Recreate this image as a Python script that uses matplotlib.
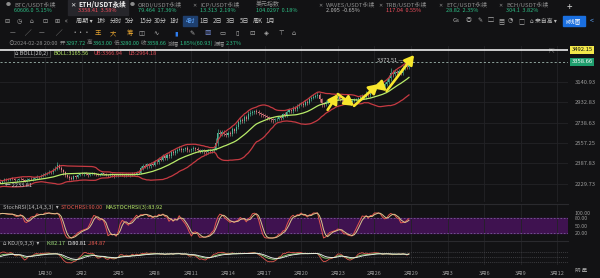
import numpy as np
import pandas as pd
import matplotlib
matplotlib.use("Agg")
import matplotlib.pyplot as plt
import matplotlib.dates as mdates
import matplotlib.transforms as mtransforms
from matplotlib.ticker import NullLocator, FixedLocator

plt.rcParams['font.family'] = ['Noto Sans CJK SC', 'DejaVu Sans']

# ---------------- data ----------------
start_time = '2024-01-20 16:00'
pre_closes = [2468, 2472,
              2466, 2460, 2470, 2464, 2458, 2452,
              2440, 2420, 2398, 2370, 2350, 2326,
              2312, 2268, 2210, 2238, 2228, 2240,
              2232, 2244, 2236, 2228, 2240, 2234,
              2226, 2218, 2230, 2222, 2214, 2226,
              2238, 2244]
closes = [2240, 2252, 2266, 2258,
          2262, 2271, 2265, 2256, 2263, 2270,
          2266, 2258, 2251, 2262, 2270, 2264,
          2268, 2276, 2284, 2279, 2292, 2300,
          2306, 2314, 2322, 2318, 2335, 2348,
          2372, 2356, 2340, 2318, 2300, 2286,
          2276, 2268, 2290, 2282, 2298, 2306,
          2302, 2310, 2306, 2298, 2304, 2312,
          2308, 2302, 2300, 2306, 2310, 2304,
          2298, 2296, 2302, 2294, 2288, 2292,
          2298, 2306, 2300, 2294, 2302, 2296,
          2300, 2312, 2306, 2322, 2316, 2352,
          2368, 2360, 2380, 2366, 2384, 2378,
          2402, 2396, 2424, 2418, 2446, 2432,
          2456, 2448, 2484, 2470, 2492, 2500,
          2508, 2498, 2504, 2512, 2500, 2496,
          2506, 2514, 2508, 2500, 2492, 2498,
          2486, 2478, 2494, 2488, 2500, 2508,
          2560, 2648, 2636, 2652, 2640, 2626,
          2648, 2636, 2676, 2664, 2702, 2740,
          2764, 2752, 2790, 2776, 2822, 2830,
          2836, 2844, 2838, 2826, 2814, 2806,
          2798, 2786, 2780, 2772, 2762, 2770,
          2776, 2790, 2782, 2818, 2806, 2842,
          2856, 2844, 2876, 2866, 2896, 2910,
          2918, 2906, 2936, 2928, 2962, 2976,
          2988, 2998, 3008, 2966, 2920, 2910,
          2930, 2946, 2958, 2950, 2964, 2972,
          2980, 2966, 2958, 2948, 2956, 2944,
          2936, 2948, 2956, 2962, 2974, 2986,
          2994, 2982, 3018, 3004, 3052, 3068,
          3080, 3096, 3110, 3102, 3090, 3118,
          3140, 3176, 3236, 3224, 3246, 3238,
          3252, 3236, 3290, 3306, 3297.72, 3358.66]
up_wick = [8, 6, 10, 7, 9, 12, 8, 10, 6, 9, 14, 12, 18, 16, 20, 14, 10,
           24, 30, 18, 12, 10, 14, 9, 11, 8, 12, 10, 9, 7, 11, 8, 10, 9,
           9, 7, 12, 8, 10, 6, 9, 11, 7, 8, 10, 6,
           8, 10, 7, 9, 12, 8, 11, 9, 10, 14, 12, 10,
           12, 9, 14, 18, 26, 12, 10, 8, 9, 7, 10, 12,
           8, 10, 7, 9, 11, 8, 10, 6, 9, 12, 8, 7,
           9, 10, 8, 6, 7, 9, 11, 8, 7, 10, 9, 8,
           10, 7, 9, 8, 11, 9, 12, 10, 14, 18, 16, 12,
           10, 14, 12, 9, 16, 12, 18, 14, 20, 12, 16, 14,
           18, 12, 14, 16, 20, 14, 10, 12, 16, 9, 12, 14,
           10, 12, 9, 8, 11, 10, 9, 12, 10, 14, 40, 30,
           26, 20, 18, 14, 16, 12, 18, 14, 20, 24, 22, 18,
           20, 16, 24, 22, 18, 14, 20, 16, 12, 10, 14, 12,
           10, 12, 9, 14, 16, 12, 18, 14, 20, 16, 18, 12,
           16, 14, 18, 12, 20, 16, 14, 18, 22, 20, 24, 18,
           30, 14, 12, 16, 20, 14, 18, 12, 16, 20, 22, 18,
           14, 12, 16, 10, 14, 12, 18, 16, 14, 20, 18, 16,
           22, 18, 20, 24, 18, 22, 26, 20, 16, 24, 30, 38,
           54, 28, 32, 24, 30, 26, 32, 66.51, 28, 4.34]
dn_wick = [7, 9, 6, 10, 8, 7, 11, 9, 8, 12, 10, 14, 16, 20, 18, 22, 15,
           12, 26, 34, 20, 16, 12, 10, 14, 9, 11, 12, 8, 10, 9, 13, 18, 11,
           6.19, 5, 10, 7, 9, 11, 8, 6, 10, 9, 7, 12,
           9, 8, 11, 7, 10, 9, 8, 12, 7, 10, 9, 11,
           10, 12, 9, 8, 11, 14, 18, 22, 16, 14, 20, 12,
           10, 14, 9, 11, 8, 10, 7, 12, 9, 8, 10, 11,
           8, 10, 12, 9, 11, 14, 10, 12, 16, 9, 8, 11,
           9, 12, 10, 8, 11, 9, 7, 10, 9, 12, 14, 10,
           12, 16, 10, 14, 11, 13, 16, 12, 14, 18, 12, 15,
           14, 16, 12, 18, 14, 20, 16, 12, 18, 14, 16, 12,
           14, 18, 16, 20, 18, 22, 16, 14, 12, 18, 10, 24,
           22, 18, 26, 20, 16, 18, 14, 20, 16, 18, 14, 20,
           18, 22, 16, 20, 24, 18, 22, 20, 24, 18, 16, 22,
           20, 26, 24, 18, 16, 14, 18, 12, 16, 14, 18, 16,
           14, 18, 16, 20, 14, 18, 16, 22, 18, 20, 16, 18,
           20, 30, 34, 24, 18, 16, 20, 18, 14, 16, 18, 20,
           22, 18, 16, 20, 24, 18, 14, 16, 18, 14, 20, 16,
           18, 22, 16, 20, 18, 24, 22, 26, 24, 20, 18, 22,
           26, 30, 22, 28, 24, 20, 26, 22, 18, 17.72]

price_ticks = [3140.93, 2932.83, 2738.63, 2557.25, 2387.83, 2229.73]
hline_price = 3492.15
last_price = 3358.66
date_ticks = ['2024-01-30', '2024-02-02', '2024-02-05', '2024-02-08', '2024-02-11',
              '2024-02-14', '2024-02-17', '2024-02-20', '2024-02-23', '2024-02-26',
              '2024-02-29', '2024-03-03', '2024-03-06', '2024-03-09', '2024-03-12']
date_labels = ['1月30', '2月2', '2月5', '2月8', '2月11', '2月14', '2月17', '2月20',
               '2月23', '2月26', '2月29', '3月3', '3月6', '3月9', '3月12']
arrow_times = ['2024-02-22 04:00', '2024-02-23 00:00', '2024-02-24 08:00',
               '2024-02-26 08:00', '2024-02-27 00:00', '2024-02-29 06:00']
arrow_prices = [2857, 3013, 2896, 3116, 3044, 3434]
stoch_levels = [100, 80, 50, 20]

# ---------------- derived ----------------
c_all = pd.Series(pre_closes + closes, dtype=float)
n_pre = len(pre_closes)
times = pd.date_range(start_time, periods=len(c_all), freq='4h')
o_all = c_all.shift(1).fillna(c_all.iloc[0])
h_all = np.maximum(o_all, c_all) + np.array(up_wick)
l_all = np.minimum(o_all, c_all) - np.array(dn_wick)

mb = c_all.rolling(20).mean()
sd = c_all.rolling(20).std(ddof=0)
ub = mb + 2 * sd
lb = mb - 2 * sd

delta = c_all.diff()
gain = delta.clip(lower=0).ewm(alpha=1 / 14, adjust=False).mean()
loss = (-delta.clip(upper=0)).ewm(alpha=1 / 14, adjust=False).mean()
rsi = 100 - 100 / (1 + gain / loss)
rmin = rsi.rolling(14).min()
rmax = rsi.rolling(14).max()
st = (rsi - rmin) / (rmax - rmin) * 100
stk = st.rolling(3).mean()
std_ = stk.rolling(3).mean()

llv = pd.Series(l_all).rolling(9, min_periods=1).min()
hhv = pd.Series(h_all).rolling(9, min_periods=1).max()
rsv = (c_all - llv) / (hhv - llv) * 100
kk = rsv.ewm(alpha=1 / 3, adjust=False).mean()
dd = kk.ewm(alpha=1 / 3, adjust=False).mean()
jj = 3 * kk - 2 * dd

vis = slice(n_pre, None)
x = mdates.date2num(times)
xv = x[vis]
ov, cv, hv, lv = o_all.values[vis], c_all.values[vis], h_all.values[vis], l_all.values[vis]

# ---------------- figure ----------------
W, H = 600, 278
BG = '#121214'
GRID = '#232327'
GRAY = '#8c8c8c'
GREEN = '#2ebd85'
RED = '#f0505e'
fig = plt.figure(figsize=(W / 100, H / 100), dpi=100, facecolor=BG)


def ax_px(l, t, r, b):
    a = fig.add_axes([l / W, 1 - b / H, (r - l) / W, (b - t) / H])
    a.set_facecolor(BG)
    for s in a.spines.values():
        s.set_visible(False)
    return a


def T(px, py, s, size=4.4, color=GRAY, **kw):
    fig.text(px / W, 1 - py / H, s, fontsize=size, color=color, va='center', **kw)


feb29 = mdates.date2num(pd.Timestamp('2024-02-29'))
ppd = 12.2
xlim = (feb29 - 411 / ppd, feb29 + (568 - 411) / ppd)
tick_x = mdates.date2num(pd.to_datetime(date_ticks))

# ---- header rows ----
fig.add_artist(plt.Rectangle((68 / W, 1 - 15 / H), 60 / W, 15 / H, transform=fig.transFigure,
                             color='#26262b', zorder=0))
tabs = [(6, 'BTC/USDT永续', '60606.0  5.15%', GREEN, '●'),
        (70, 'ETH/USDT永续', '3358.41  3.58%', RED, '✕'),
        (130, 'ORDI/USDT永续', '79.464  17.36%', GREEN, '●'),
        (192, 'ICP/USDT永续', '13.313  2.19%', GREEN, '✕'),
        (248, '美元指数', '104.0297  0.18%', GREEN, ''),
        (318, 'WAVES/USDT永续', '2.095  -0.65%', '#bdbdbd', '✕'),
        (378, 'TRB/USDT永续', '117.04  0.55%', RED, '✕'),
        (438, 'ETC/USDT永续', '28.82  2.35%', GREEN, '✕'),
        (498, 'BCH/USDT永续', '304.1  3.82%', GREEN, '✕')]
for px, name, val, col, ic in tabs:
    active = name.startswith('ETH')
    if ic:
        T(px, 5, ic, size=3.6 if not active else 4.6, color='#e8e8e8' if active else GRAY)
    T(px + 8, 4.5, name, size=4.3 if not active else 4.8,
      color='#f2f2f2' if active else GRAY, weight='bold' if active else 'normal')
    T(px + 8, 11, val, size=4.0, color=col)
T(567, 7, '+', size=7, color='#cfcfcf')

# row 2
for px, s in [(4, '⊟'), (17, '◷'), (30, '⌂'), (42, '⊡'), (54, '⊞'), (65, '«')]:
    T(px, 21, s, size=4.4, color='#a8a8a8')
T(76, 21, '周期 ▾', size=4.4, color='#c8c8c8')
tfs = [(97, '1秒'), (110, '分时'), (125, '5分'), (139, '15分'), (154, '30分'), (170, '1时'),
       (186, '4时'), (200, '1日'), (213, '2日'), (226, '3日'), (240, '5日'), (253, '周K'), (266, '1月')]
for px, s in tfs:
    if s == '4时':
        fig.add_artist(plt.Rectangle(((px - 3) / W, 1 - 25.5 / H), 14 / W, 9 / H,
                                     transform=fig.transFigure, color='#1e3f6e', zorder=0))
        T(px, 21, s, size=4.4, color='#5ea8ff')
    else:
        T(px, 21, s, size=4.4, color='#c8c8c8')
for px, s in [(453, 'Gs'), (466, '◎'), (477, '✎'), (488, '▢'), (498, '▤'), (508, '◔'),
              (518, '□')]:
    T(px, 21, s, size=4.3, color='#a8a8a8')
T(530, 21, '⌂ 来自高 ▾', size=4.2, color='#bdbdbd')
fig.add_artist(plt.Rectangle((563 / W, 1 - 25.5 / H), 22 / W, 9 / H,
                             transform=fig.transFigure, color='#1a6fe0', zorder=0))
T(565, 21, 'K线图', size=4.2, color='white')
T(590, 21, '<', size=5, color='#5ea8ff')

# row 3 tools
for px, s, col in [(10, '—', '#b0b0b0'), (25, '╱', '#b0b0b0'), (39, '—', '#b0b0b0'),
                   (56, '╱', '#b0b0b0'), (71, '···', '#b0b0b0'), (95, '王', '#e0a030'),
                   (110, '大', '#e0a030'), (127, '筹', '#e0a030'), (138, '◫', '#b0b0b0'),
                   (153, '∿', '#b0b0b0'), (174, '▮', '#2f7df0'), (189, '✎', '#b0b0b0'),
                   (204, '▩', '#6a7fc0'), (219, '▭', '#b0b0b0'), (235, '▯', '#b0b0b0'),
                   (249, '⊡', '#b0b0b0'), (264, '◈', '#b0b0b0'), (278, '⊤', '#b0b0b0'),
                   (292, '⌂', '#b0b0b0')]:
    T(px, 33, s, size=4.6, color=col)

# row 4 OHLC info
T(8, 43.5, '⊙', size=4.2, color='#9a9a9a')
info = [(14, '2024-02-28 20:00', GRAY), (60, '开', GRAY), (66, '3297.72', GREEN),
        (87, '高', GRAY), (93, '3363.00', GREEN), (114, '低', GRAY), (120, '3280.00', GREEN),
        (141, '收', GRAY), (147, '3358.66', GREEN), (168, '涨幅', GRAY),
        (180, '1.85%(60.93)', GREEN), (214, '振幅', GRAY), (226, '2.37%', GREEN)]
for px, s, col in info:
    T(px, 43.5, s, size=4.0, color=col)

# ---- main axes ----
ax = ax_px(0, 46, 568, 202)
ax.set_yscale('log')
ax.set_xlim(*xlim)
ax.set_ylim(2099, 3539)
ax.yaxis.set_major_locator(FixedLocator(price_ticks))
ax.yaxis.set_minor_locator(NullLocator())
ax.set_yticklabels([f'{p:.2f}' for p in price_ticks])
ax.yaxis.tick_right()
ax.tick_params(axis='y', length=0, pad=5, labelsize=4.2, labelcolor='#9a9a9a')
ax.xaxis.set_major_locator(FixedLocator(tick_x))
ax.tick_params(axis='x', length=0, labelbottom=False)
ax.grid(True, color=GRID, lw=0.6)

up = cv >= ov
colors = np.where(up, '#4db597', '#e07a82')
ax.vlines(xv, lv, hv, colors=colors, lw=0.45, zorder=2)
body_lo = np.minimum(ov, cv)
body_h = np.maximum(np.abs(cv - ov), 1.0)
ax.bar(xv, body_h, bottom=body_lo, width=0.085, color=colors, lw=0, zorder=2)

ax.plot(xv, ub.values[vis], color='#c63a42', lw=0.9, zorder=3)
ax.plot(xv, lb.values[vis], color='#c63a42', lw=0.9, zorder=3)
ax.plot(xv, mb.values[vis], color='#b9ec6a', lw=0.9, zorder=3)

ax.axhline(hline_price, color='white', lw=1.1, zorder=4)
ax.axhline(last_price, color='#a0b8b0', lw=0.6, ls=(0, (2.5, 2.5)), zorder=4)

bt = mtransforms.blended_transform_factory(ax.transAxes, ax.transData)
ax.text(1.006, hline_price, f'{hline_price:.2f}', transform=bt, fontsize=4.2, color='#111',
        va='center', ha='left', clip_on=False,
        bbox=dict(boxstyle='square,pad=0.25', fc='#f3e84a', ec='none'))
ax.text(1.006, last_price, f'{last_price:.2f}', transform=bt, fontsize=4.2, color='white',
        va='center', ha='left', clip_on=False,
        bbox=dict(boxstyle='square,pad=0.25', fc='#1f9e6e', ec='none'))

# max / min markers
imax = int(np.argmax(hv))
imin = int(np.argmin(lv))
ax.text(xv[imax] - 0.15, hv[imax], f'{hv[imax]:.2f} —', fontsize=4.0, color='#d0d0d0',
        ha='right', va='center', zorder=5)
ax.text(xv[imin] + 0.4, lv[imin], f'← {lv[imin]:.2f}', fontsize=4.0, color='#d0d0d0',
        ha='left', va='top', zorder=5)

# yellow arrows
at = mdates.date2num(pd.to_datetime(arrow_times))
for k in range(len(at) - 1):
    ax.annotate('', xy=(at[k + 1], arrow_prices[k + 1]), xytext=(at[k], arrow_prices[k]),
                arrowprops=dict(arrowstyle='-|>,head_length=0.55,head_width=0.32',
                                color='#f7e62c', lw=1.9, shrinkA=0, shrinkB=0), zorder=6)

# BOLL header
ax.text(0.027, 0.955, '⌂ BOLL(20,2)', transform=ax.transAxes, fontsize=4.0, color='#c8c8c8',
        va='center', bbox=dict(boxstyle='square,pad=0.2', fc=BG, ec='#555', lw=0.5))
ax.text(0.094, 0.955, 'BOLL:3165.56', transform=ax.transAxes, fontsize=4.0, color='#b9ec6a', va='center')
ax.text(0.165, 0.955, 'UB:3366.94', transform=ax.transAxes, fontsize=4.0, color='#e0505a', va='center')
ax.text(0.226, 0.955, 'LB:2964.18', transform=ax.transAxes, fontsize=4.0, color='#e0505a', va='center')
ax.text(0.965, 0.97, '⇱', transform=ax.transAxes, fontsize=5, color='#777', va='center')

# ---- stoch rsi ----
sa = ax_px(0, 204, 568, 241)
sa.set_xlim(*xlim)
sa.set_ylim(-12, 136)
sa.axhspan(20, 80, color='#3f1250', zorder=0)
for lv_ in (80, 20):
    sa.axhline(lv_, color='#7a5a9a', lw=0.6, ls=(0, (2, 2)))
sa.plot(xv, stk.values[vis], color='#e2574e', lw=0.7)
sa.plot(xv, std_.values[vis], color='#dcc58e', lw=0.7)
sa.yaxis.set_major_locator(FixedLocator(stoch_levels))
sa.set_yticklabels([f'{v:.2f}' for v in stoch_levels])
sa.yaxis.tick_right()
sa.tick_params(axis='y', length=0, pad=5, labelsize=3.8, labelcolor='#9a9a9a')
sa.xaxis.set_major_locator(FixedLocator(tick_x))
sa.tick_params(axis='x', length=0, labelbottom=False)
sa.grid(True, axis='x', color=GRID, lw=0.6)
sa.plot([0, 1], [1, 1], transform=sa.transAxes, color='#2a2a2e', lw=0.8, clip_on=False)
sa.text(0.006, 0.9, 'StochRSI(14,14,3,3)  ▾', transform=sa.transAxes, fontsize=4.0, color='#bdbdbd', va='center')
sa.text(0.107, 0.9, 'STOCHRSI:90.00', transform=sa.transAxes, fontsize=4.0, color='#e2574e', va='center')
sa.text(0.186, 0.9, 'MASTOCHRSI(3):83.92', transform=sa.transAxes, fontsize=4.0, color='#b9ec6a', va='center')

# ---- kdj ----
ka = ax_px(0, 241, 568, 265)
ka.set_xlim(*xlim)
ka.set_ylim(-30, 210)
for lv_ in (0, 50, 100):
    ka.axhline(lv_, color='#4a4a4e', lw=0.5, ls=(0, (1.5, 1.5)))
ka.plot(xv, jj.values[vis], color='#e2574e', lw=0.6)
ka.plot(xv, kk.values[vis], color='#9fe07a', lw=0.6)
ka.plot(xv, dd.values[vis], color='#f2f2f2', lw=0.6)
ka.set_yticks([])
ka.xaxis.set_major_locator(FixedLocator(tick_x))
ka.set_xticklabels(date_labels)
ka.tick_params(axis='x', length=0, pad=4, labelsize=4.0, labelcolor='#9a9a9a')
ka.grid(True, axis='x', color=GRID, lw=0.6)
ka.plot([0, 1], [1, 1], transform=ka.transAxes, color='#2a2a2e', lw=0.8, clip_on=False)
ka.text(0.006, 0.9, '⌂ KDJ(9,3,3)  ▾', transform=ka.transAxes, fontsize=4.0, color='#bdbdbd', va='center')
ka.text(0.082, 0.9, 'K:82.17', transform=ka.transAxes, fontsize=4.0, color='#9fe07a', va='center')
ka.text(0.118, 0.9, 'D:80.81', transform=ka.transAxes, fontsize=4.0, color='#f2f2f2', va='center')
ka.text(0.154, 0.9, 'J:84.87', transform=ka.transAxes, fontsize=4.0, color='#e2574e', va='center')

T(575, 270, '明 星', size=4.0, color='#9a9a9a')

fig.savefig('out.png', dpi=100, facecolor=BG)
